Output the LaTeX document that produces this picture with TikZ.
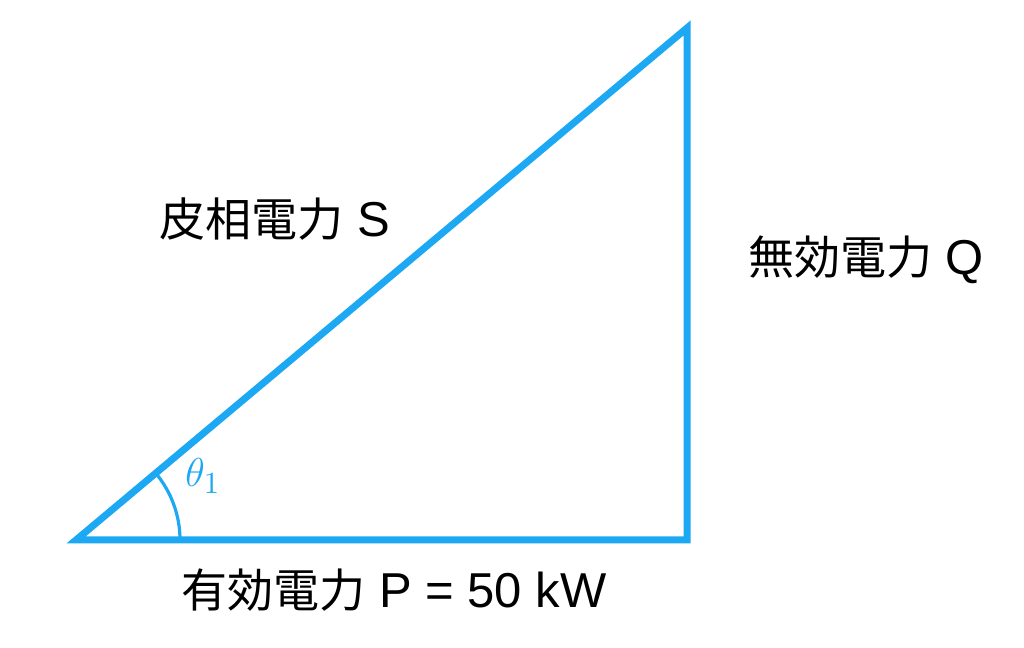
\documentclass[tikz,border=0pt]{standalone}
\usepackage[no-math]{fontspec}
\setmainfont{Liberation Sans}
\newfontfamily\cjk[Scale=0.94]{Noto Sans CJK JP}
\usetikzlibrary{calc}
\definecolor{powblue}{RGB}{29,168,244}

\begin{document}
\begin{tikzpicture}
[x=0.5pt,y=0.5pt,line join=miter]
\tikzstyle{side}=[draw=powblue,line width=3.5pt]
\tikzstyle{angarc}=[draw=powblue,line width=1.6pt]
\tikzstyle{lbl}=[font=\fontsize{24.5}{28}\selectfont,inner sep=0pt]

\useasboundingbox (0,0) rectangle (1024,648);

\coordinate (o) at (76,108);
\coordinate (p) at (687,108);
\coordinate (q) at (687,620);

\draw[side] (o) -- (p) -- (q) -- cycle;
\draw[angarc] ($(o)+(104,0)$) arc (0:40:104);

\node[text=powblue,font=\fontsize{15}{18}\selectfont] (theta) at (203,172) {\scalebox{1.4}{$\theta_1$}};
\node[lbl] (s_lbl) at (275,429) {{\cjk 皮相電力} S};
\node[lbl] (q_lbl) at (866,388) {{\cjk 無効電力} Q};
\node[lbl] (p_lbl) at (394,58) {{\cjk 有効電力} P = 50 kW};
\end{tikzpicture}
\end{document}
